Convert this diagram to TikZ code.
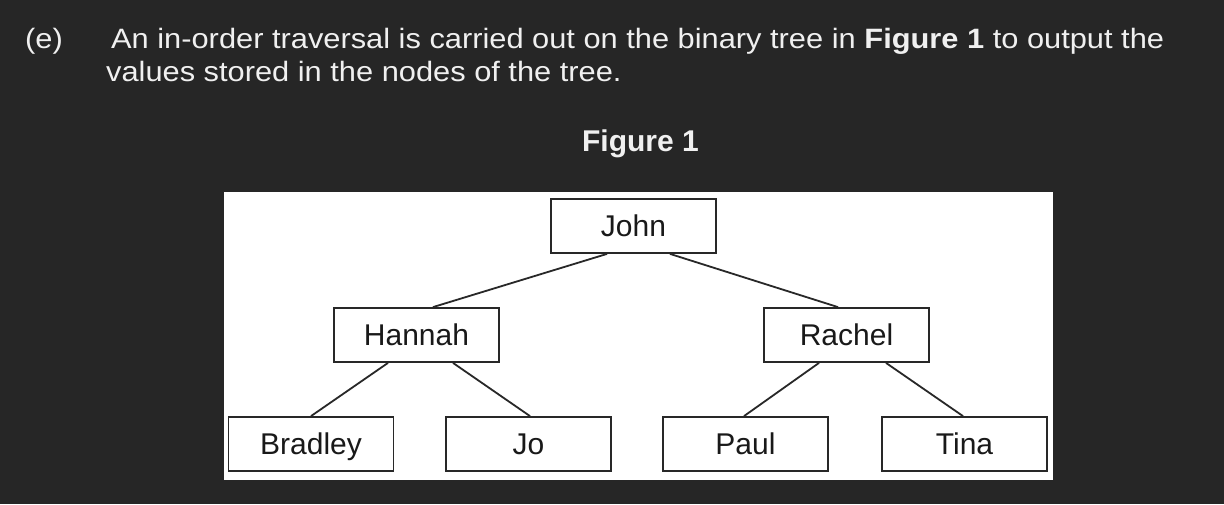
\documentclass[tikz,border=0pt]{standalone}
\usepackage{fontspec}
\setmainfont{Liberation Sans}
\newfontfamily\headfont{Liberation Sans}[FakeStretch=1.1]
\usepackage{tikz}
\usetikzlibrary{positioning,calc}
\definecolor{pagebg}{RGB}{38,38,38}
\definecolor{boxline}{RGB}{40,40,40}
\definecolor{headtext}{RGB}{240,240,240}

\begin{document}
\begin{tikzpicture}[x=1pt,y=-1pt,node distance=109pt]
        \tikzstyle{person}=[rectangle,draw=boxline,line width=1.8pt,fill=white,text=black!90,
            minimum width=165pt,minimum height=54pt,inner sep=0pt,text height=21.5pt,text depth=0.5pt,
            font=\fontsize{30}{32}\selectfont]
        \tikzstyle{branch}=[draw=boxline,line width=1.8pt]
        \tikzstyle{head}=[text=headtext,inner sep=0pt,anchor=base west,font=\headfont\fontsize{28}{30}\selectfont]
        % background and panel
        \fill[pagebg] (0,0) rectangle (1224,504);
        \useasboundingbox (0,0) rectangle (1224,504);
        \fill[white] (224,192) rectangle (1053,480);
        % question text
        \node[head](part) at (25,48) {(e)};
        \node[head](line1) at (111,48) {An in-order traversal is carried out on the binary tree in \textbf{Figure 1} to output the};
        \node[head](line2) at (106,81) {values stored in the nodes of the tree.};
        \node[text=headtext,inner sep=0pt,anchor=base,font=\bfseries\fontsize{30}{32}\selectfont](title) at (640.5,151) {Figure 1};
        % tree
        \begin{scope}
        \node[person](john) at (633.5,226) {John};
        \node[person](hannah)[below of=john,xshift=-217pt]{Hannah};
        \node[person](rachel)[below of=john,xshift=213pt]{Rachel};
        \node[person](bradley)[below of=hannah,xshift=-105.5pt]{Bradley};
        \node[person](jo)[below of=hannah,xshift=112pt]{Jo};
        \node[person](paul)[below of=rachel,xshift=-101pt]{Paul};
        \node[person](tina)[below of=rachel,xshift=118pt]{Tina};
        \draw[branch] ([xshift=-26.5pt]john.south) -- ([xshift=16.5pt]hannah.north);
        \draw[branch] ([xshift=36.5pt]john.south) -- ([xshift=-8.5pt]rachel.north);
        \draw[branch] ([xshift=-28.5pt]hannah.south) -- (bradley.north);
        \draw[branch] ([xshift=36.5pt]hannah.south) -- ([xshift=1.5pt]jo.north);
        \draw[branch] ([xshift=-27.5pt]rachel.south) -- ([xshift=-1.5pt]paul.north);
        \draw[branch] ([xshift=39.5pt]rachel.south) -- ([xshift=-1.5pt]tina.north);
        \end{scope}
\end{tikzpicture}
\end{document}
